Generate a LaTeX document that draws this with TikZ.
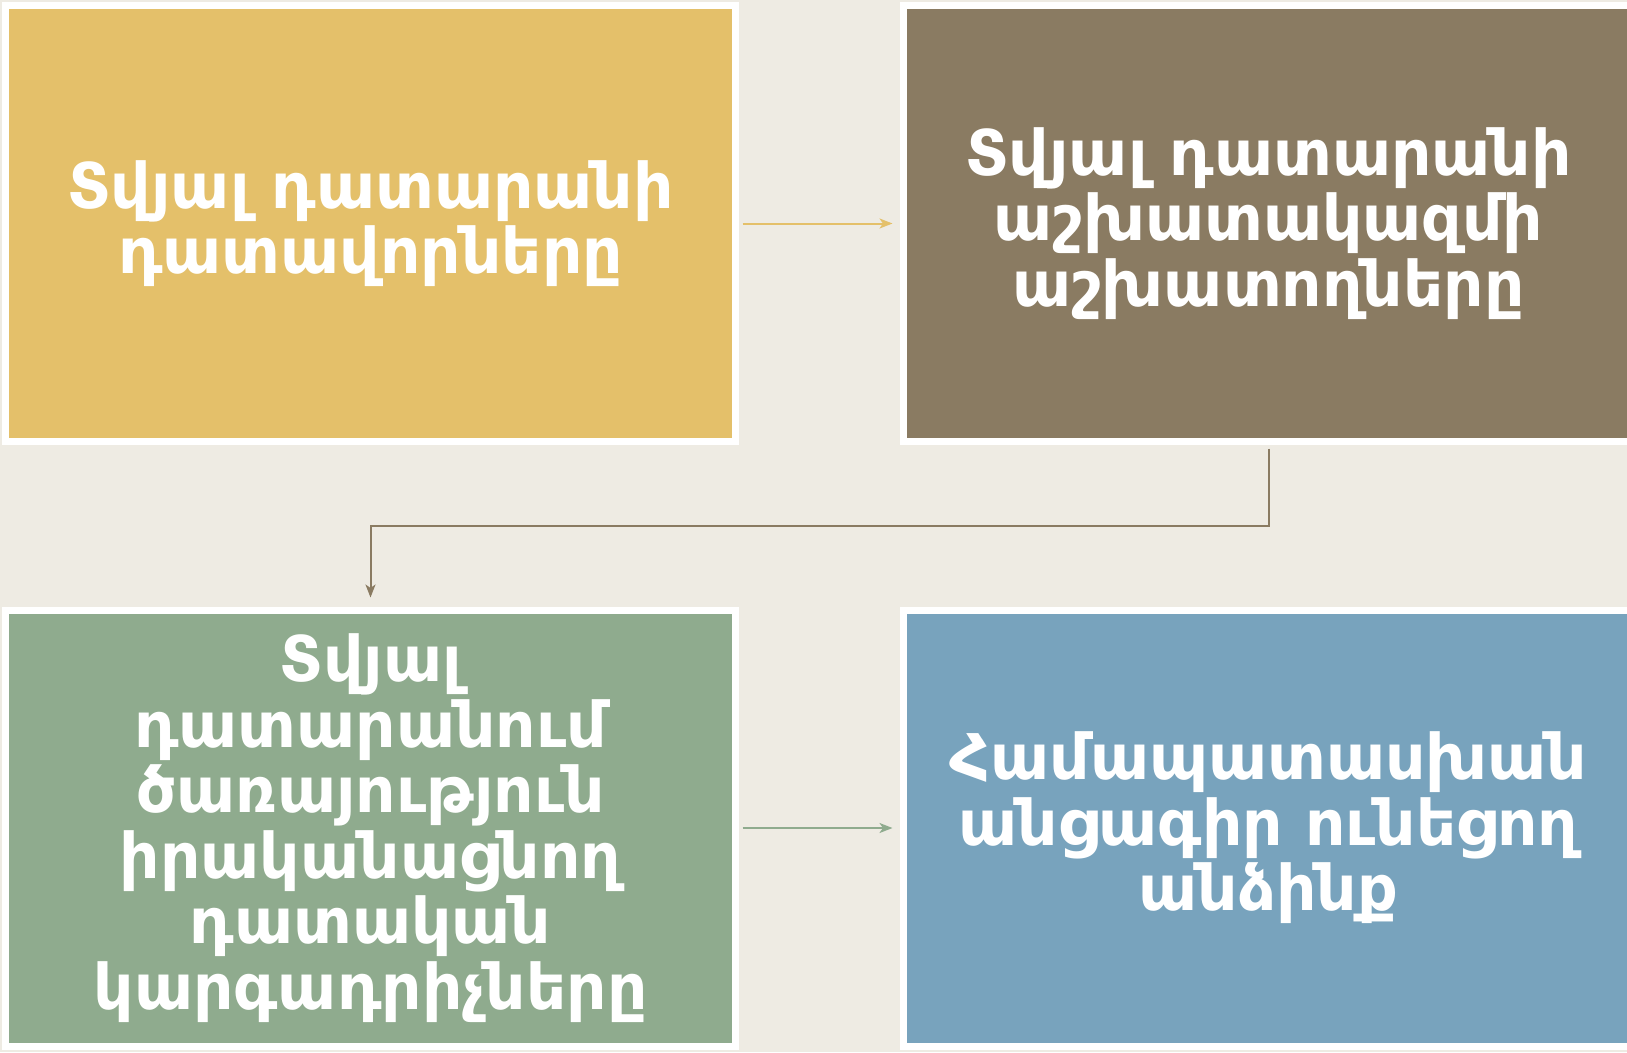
\documentclass[tikz,border=0pt]{standalone}
\usepackage{fontspec}
\newfontfamily\armfont{DejaVu Sans}
\usetikzlibrary{arrows.meta}
\definecolor{bgc}{RGB}{238,235,227}
\definecolor{cyel}{RGB}{228,192,106}
\definecolor{cbrn}{RGB}{138,123,98}
\definecolor{cgrn}{RGB}{143,171,142}
\definecolor{cblu}{RGB}{120,163,189}
\tikzset{
  box/.style={rectangle, draw=white, line width=7pt, minimum width=730pt, minimum height=436pt, inner sep=0pt, text=white, align=center,
    font=\armfont\bfseries\fontsize{63}{65.5}\selectfont},
  conn/.style={line width=2pt, -{Stealth[length=13pt,width=10pt,inset=3.5pt]}}
}
\begin{document}
\begin{tikzpicture}[x=1pt,y=-1pt]
\useasboundingbox (0,0) rectangle (1627,1052);
\clip (0,0) rectangle (1627,1052);
\fill[bgc] (0,0) rectangle (1627,1052);
\node[box, fill=cyel] (b1) at (370.5,223.5) {Տվյալ դատարանի\\դատավորները};
\node[box, fill=cbrn] (b2) at (1268.5,223.5) {Տվյալ դատարանի\\աշխատակազմի\\աշխատողները};
\node[box, fill=cgrn] (b3) at (370.5,828) {Տվյալ\\դատարանում\\ծառայություն\\իրականացնող\\դատական\\կարգադրիչները};
\node[box, fill=cblu] (b4) at (1268.5,828) {Համապատասխան\\անցագիր ունեցող\\անձինք};
\draw[conn, cyel, shorten <=3.5pt, shorten >=7.5pt] (b1.east) -- (b2.west);
\draw[conn, cgrn, shorten <=3.5pt, shorten >=7.5pt] (b3.east) -- (b4.west);
\coordinate (e1) at (1268.5,525.5);
\coordinate (e2) at (370.5,525.5);
\draw[conn, cbrn, shorten <=3.5pt, shorten >=9pt] (b2.south) -- (e1) -- (e2) -- (b3.north);
\end{tikzpicture}
\end{document}
